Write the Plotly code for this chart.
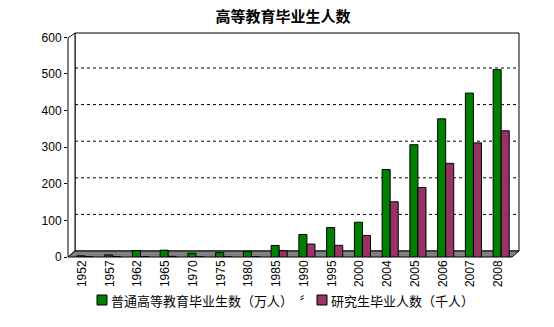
import plotly.graph_objects as go

years = ["1952", "1957", "1962", "1965", "1970", "1975", "1980", "1985",
         "1990", "1995", "2000", "2004", "2005", "2006", "2007", "2008"]
grad_undergrad = [3.2, 5.6, 17.7, 18.6, 10.3, 11.9, 14.7, 31.6,
                  61.4, 80.5, 95.0, 239.1, 306.8, 377.5, 447.8, 511.9]
grad_postgrad = [0.6, 1.0, 1.2, 1.7, 0.0, 0.0, 0.5, 17.0,
                 35.4, 31.9, 58.8, 150.8, 189.7, 255.9, 311.8, 344.8]
series_names = ["普通高等教育毕业生数（万人）\u3000〞", "研究生毕业人数（千人）"]
series_colors = ["#008000", "#993366"]
y_ticks = [0, 100, 200, 300, 400, 500, 600]
title_text = "高等教育毕业生人数"

W, H = 554, 327
L, R, T, B = 68, 42, 33, 70
DX, DY = 7, 6  # depth offset in px
plot_w = W - L - R
plot_h = H - T - B
ymax = 612
u_per_px = ymax / plot_h

BW = 0.29
offsets = [-0.18, 0.11]

fig = go.Figure()
for vals, name, col, off in zip([grad_undergrad, grad_postgrad], series_names, series_colors, offsets):
    fig.add_trace(go.Bar(x=years, y=vals, name=name, showlegend=False, width=BW, offset=off,
                         marker=dict(color=col, line=dict(color="black", width=1))))

shapes = []
annotations = []
px2x = lambda p: (p - L) / plot_w
px2y = lambda p: (H - B - p) / plot_h
# back wall
shapes.append(dict(type="rect", xref="paper", yref="paper", layer="below",
                   x0=px2x(L + DX), x1=px2x(W - R + DX), y0=px2y(H - B - DY), y1=1,
                   line=dict(color="black", width=1), fillcolor="white"))
# left wall
shapes.append(dict(type="path", xref="paper", yref="paper", layer="below",
                   path=f"M {px2x(L)},{px2y(H-B)} L {px2x(L)},{px2y(T+DY-1)} L {px2x(L+DX)},{px2y(T)} L {px2x(L+DX)},{px2y(H-B-DY)} Z",
                   line=dict(color="black", width=1), fillcolor="white"))
# floor
shapes.append(dict(type="path", xref="paper", yref="paper", layer="below",
                   path=f"M {px2x(L)},{px2y(H-B)} L {px2x(W-R)},{px2y(H-B)} L {px2x(W-R+DX)},{px2y(H-B-DY)} L {px2x(L+DX)},{px2y(H-B-DY)} Z",
                   line=dict(color="black", width=1), fillcolor="#808080"))
# dashed gridlines on back wall
for v in y_ticks[1:-1]:
    yy = px2y(H - B - DY - v / u_per_px)
    shapes.append(dict(type="line", xref="paper", yref="paper", layer="below",
                       x0=px2x(L + DX), x1=px2x(W - R + DX), y0=yy, y1=yy,
                       line=dict(color="black", width=1, dash="3px,3px")))

# legend drawn manually
leg_y = 300
leg_x = [97, 317]
for name, col, x0 in zip(series_names, series_colors, leg_x):
    shapes.append(dict(type="rect", xref="paper", yref="paper",
                       x0=px2x(x0), x1=px2x(x0 + 10), y0=px2y(leg_y - 5), y1=px2y(leg_y + 5),
                       line=dict(color="black", width=1), fillcolor=col))
    annotations.append(dict(text=name, xref="paper", yref="paper", x=px2x(x0 + 12), y=px2y(leg_y),
                            xanchor="left", yanchor="middle", showarrow=False,
                            font=dict(family="Noto Sans CJK SC", size=13, color="black")))

fig.update_layout(
    width=W, height=H,
    margin=dict(l=L, r=R, t=T, b=B),
    paper_bgcolor="white", plot_bgcolor="rgba(0,0,0,0)",
    title=dict(text=title_text, x=283 / W, xanchor="center", y=1 - 17 / H, yanchor="middle",
               font=dict(family="Noto Sans CJK SC", size=15, color="black", weight="bold")),
    barmode="group", bargap=0.42, bargroupgap=0,
    shapes=shapes, annotations=annotations,
    font=dict(family="Liberation Sans, Arial", size=12, color="black"),
)
fig.update_xaxes(type="category", tickangle=-90, showgrid=False, showline=False,
                 ticks="", tickfont=dict(family="Liberation Sans, Arial", size=12, color="black"))
fig.update_yaxes(range=[0, ymax], tickvals=y_ticks, showgrid=False, zeroline=False,
                 showline=False, ticks="outside", ticklen=3, tickcolor="black",
                 tickfont=dict(family="Liberation Sans, Arial", size=12, color="black"))

fig.write_html("out.html")
